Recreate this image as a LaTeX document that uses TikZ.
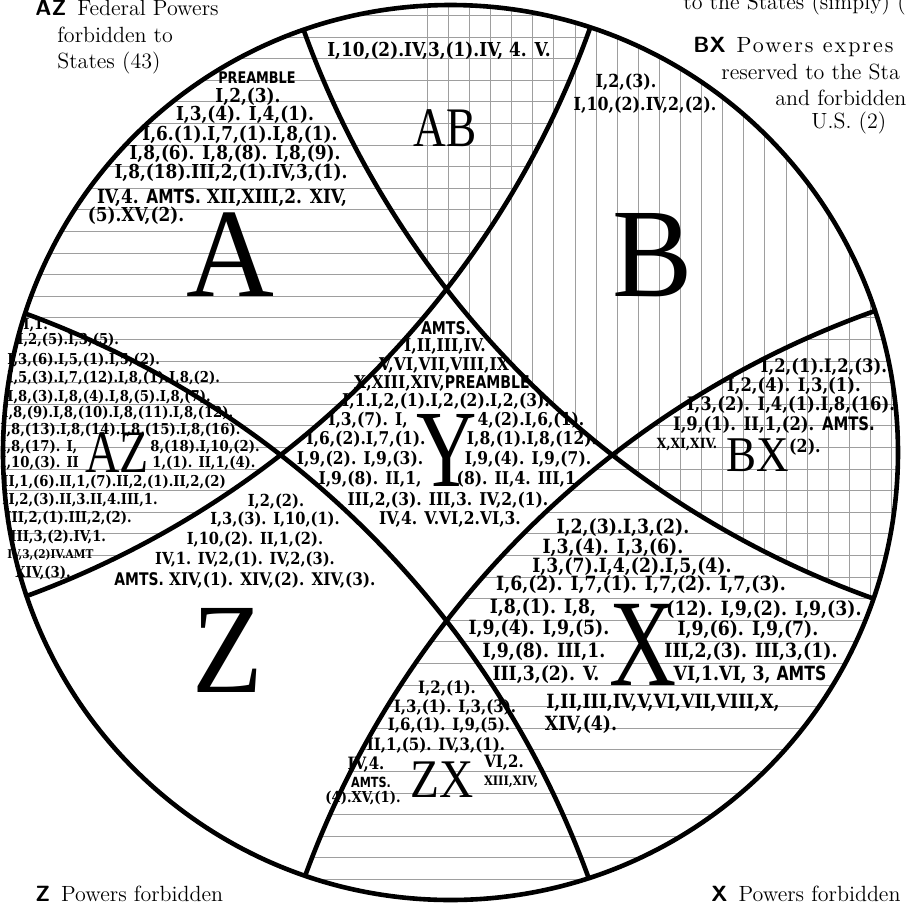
\documentclass[tikz,border=0pt]{standalone}
\usepackage{fontspec}
\usepackage{tikz}
\usetikzlibrary{positioning}

\newfontfamily\clarfont[FakeStretch=0.88]{DejaVu Serif}
\newfontfamily\gothfont[FakeStretch=0.8]{DejaVu Sans}
\newfontfamily\capfont{Liberation Serif}
\newfontfamily\widefont[LetterSpace=9]{Latin Modern Roman}
\newcommand{\amts}{{\gothfont AMTS.}}
\newcommand{\lensR}{943}

\begin{document}
\begin{tikzpicture}[
    x=0.5pt, y=-0.5pt,
    bound/.style={line width=2.3pt},
    hatch/.style={draw=black!38, line width=0.45pt},
    bigl/.style={inner sep=0pt, font=\capfont\fontsize{#1}{#1}\selectfont},
    refs/.style={inner sep=0pt, font=\clarfont\bfseries\fontsize{#1}{#1}\selectfont},
    legend/.style={inner sep=0pt, anchor=west, font=\fontsize{11}{11}\selectfont}
]
\fill[white] (0,0) rectangle (906,907);
\useasboundingbox (0,0) rectangle (906,907);

% main disc and the four big circles that cut it
\coordinate (ctr) at (450.5,452.5);
\coordinate (ul) at (-298.1,-289.6);
\coordinate (ur) at (1191.1,-289.6);
\coordinate (ll) at (-298.1,1199.6);
\coordinate (lr) at (1191.1,1199.6);

\begin{scope}
  \clip (ctr) circle (447.5);
  % horizontal ruling: A and X
  \begin{scope}
    \clip (ul) circle (\lensR) (lr) circle (\lensR);
    \foreach \y in {15.5,37.1,...,907} \draw[hatch] (0,\y) -- (906,\y);
  \end{scope}
  % vertical ruling: B
  \begin{scope}
    \clip (ur) circle (\lensR);
    \foreach \x in {427.3,448.4,...,906} \draw[hatch] (\x,0) -- (\x,907);
  \end{scope}
  \draw[bound] (ul) circle (\lensR) (ur) circle (\lensR)
               (ll) circle (\lensR) (lr) circle (\lensR);
\end{scope}
\draw[bound] (ctr) circle (447.5);

% big letters
\node[bigl=63.4] (lA) at (230,255) {\scalebox{0.96}[1]{A}};
\node[bigl=63.4] (lB) at (653,255) {\scalebox{0.95}[1]{B}};
\node[bigl=64.2] (lZ) at (228,650) {\scalebox{0.9}[1]{Z}};
\node[bigl=62] (lX) at (643,645) {\scalebox{0.75}[1]{X}};
\node[bigl=55] (lY) at (447,450) {\scalebox{0.76}[1]{Y}};
\node[bigl=27.9] (lAB) at (445,128) {\scalebox{0.81}[1]{AB}};
\node[bigl=30.2] (lAZ) at (117,453) {\scalebox{0.79}[1]{AZ}};
\node[bigl=25] (lBX) at (758,455) {\scalebox{0.9}[1]{BX}};
\node[bigl=27.2] (lZX) at (442,780) {\scalebox{0.87}[1]{ZX}};

% A
\node[refs=8] (a1) at (257,78) {\gothfont PREAMBLE};
\node[refs=9.6] (a2) at (248,97) {I,2,(3).};
\node[refs=9.6] (a3) at (245,115) {I,3,(4). I,4,(1).};
\node[refs=9.6] (a4) at (240,135) {I,6.(1).I,7,(1).I,8,(1).};
\node[refs=9.6] (a5) at (235,154) {I,8,(6). I,8,(8). I,8,(9).};
\node[refs=9.6] (a6) at (231,173) {I,8,(18).III,2,(1).IV,3,(1).};
\node[refs=9.6] (a7) at (222,198) {IV,4. \amts\ XII,XIII,2. XIV,};
\node[refs=9.6] (a8) at (136,216) {(5).XV,(2).};

% AB and B
\node[refs=9.6] (ab1) at (439,51) {I,10,(2).IV,3,(1).IV, 4. V.};
\node[refs=9] (b1) at (626,82) {I,2,(3).};
\node[refs=9] (b2) at (645,105) {I,10,(2).IV,2,(2).};

% AZ
\node[refs=7.5, anchor=west] (az1) at (23,325) {I,1.};
\node[refs=7.5, anchor=west] (az2) at (17,340) {I,2,(5).I,3,(5).};
\node[refs=7.5, anchor=west] (az3) at (7,360) {I,3,(6).I,5,(1).I,5,(2).};
\node[refs=7.5, anchor=west] (az4) at (7,378) {I,5,(3).I,7,(12).I,8,(1).I,8,(2).};
\node[refs=7.5, anchor=west] (az5) at (7,397) {I,8,(3).I,8,(4).I,8,(5).I,8,(7).};
\node[refs=7.5, anchor=west] (az6) at (2,413) {I,8,(9).I,8,(10).I,8,(11).I,8,(12).};
\node[refs=7.5, anchor=west] (az7) at (0,430) {I,8,(13).I,8,(14).I,8,(15).I,8,(16).};
\node[refs=7.5, anchor=west] (az8) at (0,447) {I,8,(17). I,};
\node[refs=7.5, anchor=west] (az8b) at (150,447) {8,(18).I,10,(2).};
\node[refs=7.5, anchor=west] (az9) at (0,463) {I,10,(3). II};
\node[refs=7.5, anchor=west] (az9b) at (152,463) {1,(1). II,1,(4).};
\node[refs=7.5, anchor=west] (az10) at (2,482) {II,1,(6).II,1,(7).II,2,(1).II,2,(2)};
\node[refs=7.5, anchor=west] (az11) at (2,500) {II,2,(3).II,3.II,4.III,1.};
\node[refs=7.5, anchor=west] (az12) at (5,518) {III,2,(1).III,2,(2).};
\node[refs=7.5, anchor=west] (az13) at (10,537) {III,3,(2).IV,1.};
\node[refs=6, anchor=west] (az14) at (7,555) {IV,3,(2)IV.AMT};
\node[refs=7.5, anchor=west] (az15) at (15,573) {XIV,(3).};

% Z
\node[refs=8.3] (z1) at (276,502) {I,2,(2).};
\node[refs=8.3] (z2) at (275,520) {I,3,(3). I,10,(1).};
\node[refs=8.3] (z3) at (255,540) {I,10,(2). II,1,(2).};
\node[refs=8.3] (z4) at (245,560) {IV,1. IV,2,(1). IV,2,(3).};
\node[refs=8.7] (z5) at (245,580) {\amts\ XIV,(1). XIV,(2). XIV,(3).};

% Y
\node[refs=8.8] (y1) at (446,328) {\amts};
\node[refs=8.8] (y2) at (445,347) {I,II,III,IV.};
\node[refs=8.8] (y3) at (444,366) {V,VI,VII,VIII,IX};
\node[refs=8.8] (y4) at (442,384) {X,XIII,XIV,{\gothfont PREAMBLE}};
\node[refs=8.8] (y5) at (446,401) {I,1.I,2,(1).I,2,(2).I,2,(3).};
\node[refs=8.8] (y6l) at (368,420) {I,3,(7). I,};
\node[refs=8.8] (y6r) at (531,420) {4,(2).I,6,(1).};
\node[refs=8.8] (y7l) at (366,439) {I,6,(2).I,7,(1).};
\node[refs=8.8] (y7r) at (532,439) {I,8,(1).I,8,(12).};
\node[refs=8.8] (y8l) at (360,459) {I,9,(2). I,9,(3).};
\node[refs=8.8] (y8r) at (528,459) {I,9,(4). I,9,(7).};
\node[refs=8.8] (y9l) at (370,479) {I,9,(8). II,1,};
\node[refs=8.8] (y9r) at (519,479) {(8). II,4. III,1.};
\node[refs=8.8] (y10) at (448,500) {III,2,(3). III,3. IV,2,(1).};
\node[refs=8.8] (y11) at (450,519) {IV,4. V.VI,2.VI,3.};

% BX
\node[refs=9.3] (bx1) at (824,367) {I,2,(1).I,2,(3).};
\node[refs=9.3] (bx2) at (794,386) {I,2,(4). I,3,(1).};
\node[refs=9.3] (bx3) at (791,405) {I,3,(2). I,4,(1).I,8,(16).};
\node[refs=9.3] (bx4) at (774,425) {I,9,(1). II,1,(2). \amts};
\node[refs=7] (bx5) at (687,445) {X,XI,XIV.};
\node[refs=9] (bx6) at (805,447) {(2).};

% X
\node[refs=9.8] (x1) at (623,528) {I,2,(3).I,3,(2).};
\node[refs=9.8] (x2) at (613,548) {I,3,(4). I,3,(6).};
\node[refs=9.8] (x3) at (632,567) {I,3,(7).I,4,(2).I,5,(4).};
\node[refs=9.8] (x4) at (641,585) {I,6,(2). I,7,(1). I,7,(2). I,7,(3).};
\node[refs=9.8] (x5l) at (543,608) {I,8,(1). I,8,};
\node[refs=9.8] (x5r) at (764,610) {(12). I,9,(2). I,9,(3).};
\node[refs=9.8] (x6l) at (539,629) {I,9,(4). I,9,(5).};
\node[refs=9.8] (x6r) at (748,630) {I,9,(6). I,9,(7).};
\node[refs=9.8] (x7l) at (544,652) {I,9,(8). III,1.};
\node[refs=9.8] (x7r) at (751,652) {III,2,(3). III,3,(1).};
\node[refs=9.8] (x8l) at (546,675) {III,3,(2). V.};
\node[refs=9.8] (x8r) at (750,675) {VI,1.VI, 3, {\gothfont AMTS}};
\node[refs=9.8] (x9) at (663,703) {I,II,III,IV,V,VI,VII,VIII,X,};
\node[refs=9.8] (x10) at (581,725) {XIV,(4).};

% ZX
\node[refs=8.5] (zx1) at (447,688) {I,2,(1).};
\node[refs=8.5] (zx2) at (455,707) {I,3,(1). I,3,(3).};
\node[refs=8.5] (zx3) at (449,725) {I,6,(1). I,9,(5).};
\node[refs=8.5] (zx4) at (436,745) {II,1,(5). IV,3,(1).};
\node[refs=8.5] (zx5) at (366,765) {IV,4.};
\node[refs=7] (zx6) at (371,782) {\amts};
\node[refs=7.5] (zx7) at (363,798) {(4).XV,(1).};
\node[refs=8.5] (zx8) at (504,763) {VI,2.};
\node[refs=6.5] (zx9) at (511,782) {XIII,XIV,};

% legends
\node[legend] (lgaz1) at (35,8) {{\sffamily\bfseries AZ}\enspace Federal Powers};
\node[legend] (lgaz2) at (57,35) {forbidden to};
\node[legend] (lgaz3) at (57,63) {States (43)};
\node[legend, anchor=base west] (lgb) at (683,9) {to the States (simply) (};
\node[legend] (lgbx1) at (693,47) {{\sffamily\bfseries BX}\enspace{\widefont Powers expres}};
\node[legend] (lgbx2) at (721,72) {reserved to the Sta};
\node[legend] (lgbx3) at (775,98) {and forbidden};
\node[legend] (lgbx4) at (811,123) {U.S. (2)};
\node[legend] (lgz) at (35,894) {{\sffamily\bfseries Z}\enspace Powers forbidden};
\node[legend] (lgx) at (711,894) {{\sffamily\bfseries X}\enspace Powers forbidden};
\end{tikzpicture}
\end{document}
